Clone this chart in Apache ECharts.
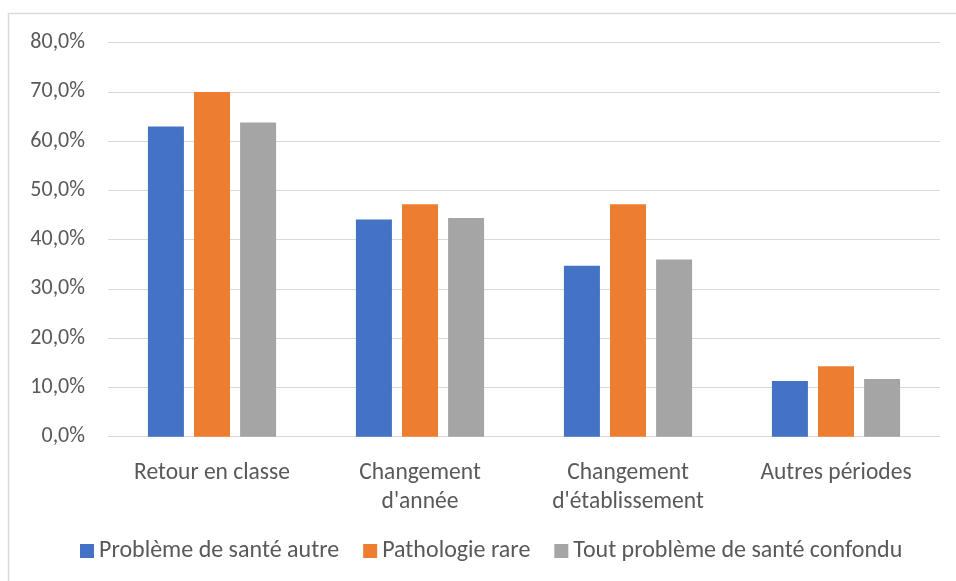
<!DOCTYPE html>
<html><head><meta charset="utf-8">
<script src="https://cdn.jsdelivr.net/npm/echarts@6/dist/echarts.min.js"></script>
<style>html,body{margin:0;padding:0;background:#fff}#c{width:956px;height:581px}</style>
</head><body><div id="c"></div>
<script>
var categories = ["Retour en classe", "Changement\nd'année", "Changement\nd'établissement", "Autres périodes"];
var seriesNames = ["Problème de santé autre", "Pathologie rare", "Tout problème de santé confondu"];
var sante_autre = [63.0, 44.1, 34.7, 11.3];
var patho_rare = [70.0, 47.2, 47.2, 14.3];
var tout_probleme = [63.8, 44.4, 36.0, 11.7];
var colors = ["#4472C4", "#ED7D31", "#A5A5A5"];
var FONT = "Carlito, Lato, 'Open Sans', sans-serif";
var chart = echarts.init(document.getElementById('c'), null, {renderer: 'canvas'});
var dataSets = [sante_autre, patho_rare, tout_probleme];
chart.setOption({
  animation: false,
  textStyle: {fontFamily: FONT},
  graphic: [{type: 'rect', shape: {x: 8.5, y: 13.5, width: 960, height: 600}, style: {fill: 'none', stroke: '#d9d9d9', lineWidth: 1.5}, silent: true, z: -1}],
  grid: {left: 108, right: 16, top: 42.7, bottom: 144.3, containLabel: false},
  legend: {
    data: seriesNames, top: 539, left: 80, icon: 'rect', itemWidth: 14, itemHeight: 14, itemGap: 24, padding: 0,
    textStyle: {fontSize: 24, color: '#595959', fontFamily: FONT, lineHeight: 22}
  },
  xAxis: {
    type: 'category', data: categories,
    axisLine: {show: true, lineStyle: {color: '#d9d9d9', width: 1}},
    axisTick: {show: false},
    axisLabel: {fontSize: 23.5, color: '#595959', margin: 22, lineHeight: 29, fontFamily: FONT, interval: 0}
  },
  yAxis: {
    type: 'value', min: 0, max: 80, interval: 10,
    axisLine: {show: false}, axisTick: {show: false},
    splitLine: {lineStyle: {color: '#d9d9d9', width: 1}},
    axisLabel: {fontSize: 22, color: '#595959', margin: 23, fontFamily: FONT,
      formatter: function(v){ return v.toFixed(1).replace('.', ',') + '%'; }}
  },
  series: seriesNames.map(function(n, i){
    return {name: n, type: 'bar', data: dataSets[i], barWidth: 36, barGap: '28%',
      itemStyle: {color: colors[i]}};
  })
});
</script></body></html>
